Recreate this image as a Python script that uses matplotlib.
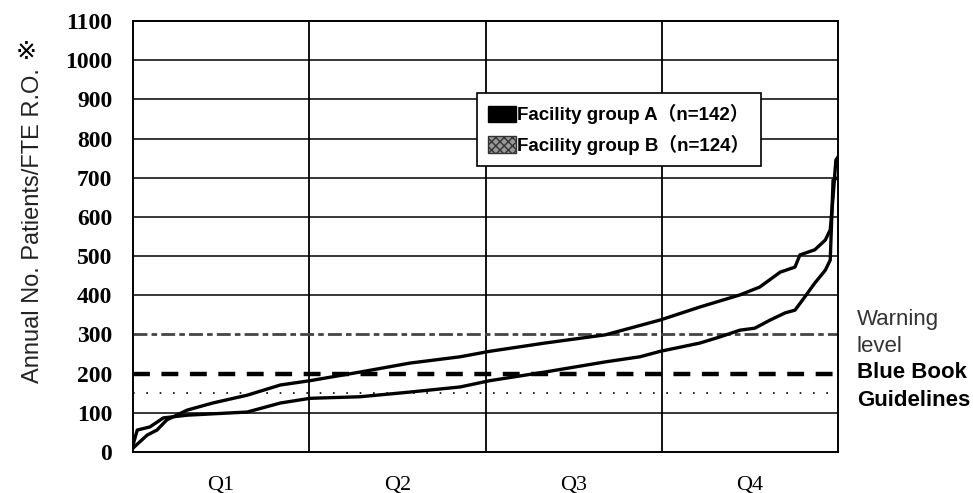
import matplotlib
matplotlib.use('Agg')
import matplotlib.pyplot as plt
from matplotlib.patches import Patch

# position along the ranked facilities, % of group (0 = lowest, 100 = highest)
pos_a = [0, 2.0, 3.4, 4.8, 7.7, 11.3, 16.2, 20.9, 25.1, 32.2, 39.3, 46.4, 50.6,
         58.4, 67.0, 74.8, 80.4, 86.1, 88.9, 91.8, 93.9, 94.6, 96.7, 98.2, 98.9,
         99.3, 99.7, 100]
pat_a = [10, 43, 56, 82, 107, 125, 145, 171, 182, 204, 227, 243, 257,
         278, 299, 337, 370, 401, 421, 459, 472, 503, 516, 541, 567,
         651, 745, 753]

pos_b = [0, 0.6, 2.4, 4.3, 7.7, 16.2, 20.9, 25.1, 32.2, 39.3, 46.4, 50.6, 58.4,
         67.0, 71.9, 74.8, 80.4, 83.3, 86.1, 88.2, 90.4, 92.5, 93.9, 95.3, 96.7,
         98.2, 98.9, 99.3, 100]
pat_b = [18, 56, 64, 87, 94, 102, 125, 137, 141, 153, 166, 182, 204,
         230, 243, 257, 278, 294, 311, 316, 337, 355, 362, 396, 431,
         464, 490, 694, 700]

quartiles = ['Q1', 'Q2', 'Q3', 'Q4']
warning_level = 300
blue_book = 200
lower_band = 150

fig = plt.figure(figsize=(9.73, 4.93), dpi=100)
ax = fig.add_axes([133/973, 41/493, 705/973, 431/493])

ax.set_xlim(0, 100)
ax.set_ylim(0, 1100)

# grid
for y in range(100, 1100, 100):
    if y in (warning_level, blue_book):
        continue
    ax.axhline(y, color='black', lw=1.1, zorder=1)
for x in (25, 50, 75):
    ax.axvline(x, color='black', lw=1.3, zorder=1)

ax.axhline(warning_level, color='#444444', lw=2.0, dashes=(5, 1.5, 2, 1.5), zorder=2)
ax.axhline(blue_book, color='black', lw=3.2, dashes=(3.8, 2.6), zorder=2)
ax.axhline(lower_band, color='black', lw=1.2, dashes=(1, 7), zorder=2)

ax.plot(pos_a, pat_a, color='black', lw=2.4, solid_joinstyle='round', zorder=3)
ax.plot(pos_b, pat_b, color='black', lw=2.4, solid_joinstyle='round', zorder=3)

ax.set_yticks(range(0, 1101, 100))
ax.set_yticklabels([str(v) for v in range(0, 1101, 100)],
                   fontfamily='Liberation Serif', fontweight='bold', fontsize=17)
ax.set_xticks([12.5, 37.5, 62.5, 87.5])
ax.set_xticklabels(quartiles, fontfamily='Liberation Serif', fontsize=16)
ax.tick_params(axis='y', length=0, pad=15)
ax.tick_params(axis='x', length=0, pad=17)
for s in ax.spines.values():
    s.set_linewidth(1.4)
    s.set_color('black')

fig.text(33/973, 1 - 226/493, 'Annual No. Patients/FTE R.O.', rotation=90,
         ha='center', va='center', fontsize=17, family='Liberation Sans',
         color='#222222')
fig.text(26/973, 1 - 52/493, '※', ha='center', va='center', fontsize=18,
         family=['DejaVu Sans', 'Noto Sans CJK JP'])

handles = [Patch(facecolor='black', edgecolor='black'),
           Patch(facecolor='#999999', edgecolor='#333333', hatch='xxxx')]
leg = ax.legend(handles, ['Facility group A（n=142）', 'Facility group B（n=124）'],
                loc='upper left', bbox_to_anchor=((477-133)/705, (452-93)/431),
                fancybox=False, framealpha=1, edgecolor='black',
                handlelength=1.5, handleheight=1.0, handletextpad=0.05,
                borderpad=0.6, labelspacing=0.55, borderaxespad=0,
                prop={'family': ['Liberation Sans', 'Noto Sans CJK JP'],
                      'weight': 'bold', 'size': 13.5})
leg.get_frame().set_linewidth(1.2)
leg.set_zorder(5)

side = [('Warning', 320, 'normal', '#333333'),
        ('level', 347, 'normal', '#333333'),
        ('Blue Book', 373, 'bold', 'black'),
        ('Guidelines', 400, 'bold', 'black')]
for txt, py, w, c in side:
    fig.text(857/973, 1 - py/493, txt, ha='left', va='center', fontsize=16,
             fontweight=w, color=c, family='Liberation Sans')

fig.savefig('out.png', dpi=100)
